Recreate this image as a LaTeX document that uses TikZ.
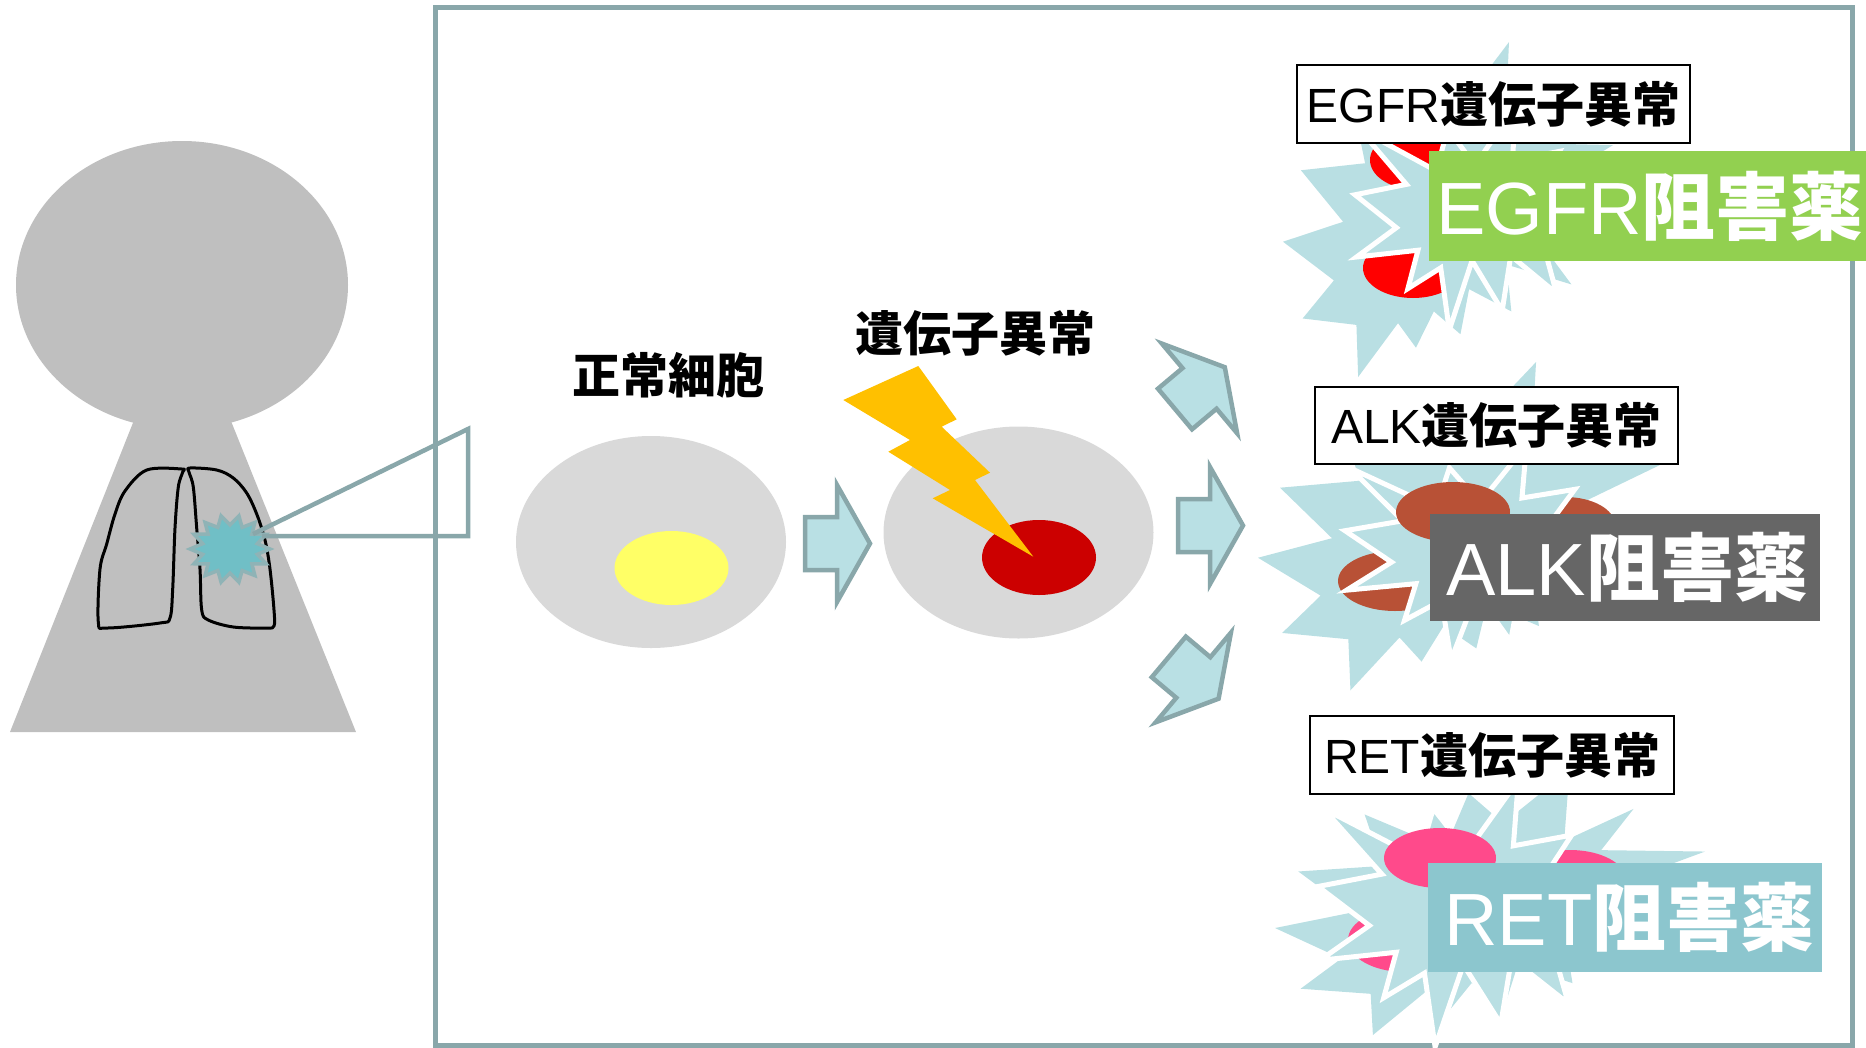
\documentclass[tikz,border=0pt]{standalone}
\usepackage{fontspec}
\setmainfont{Liberation Sans}
\newfontfamily\jp{Noto Sans CJK JP}

\definecolor{framec}{HTML}{89A7AA}
\definecolor{arrowfill}{HTML}{B9E0E4}
\definecolor{burst}{HTML}{B9DFE3}
\definecolor{bodygray}{HTML}{BFBFBF}
\definecolor{cellgray}{HTML}{D9D9D9}
\definecolor{nucyellow}{HTML}{FFFF66}
\definecolor{nucred}{HTML}{CC0000}
\definecolor{boltc}{HTML}{FFC000}
\definecolor{tumorc}{HTML}{70BFC6}
\definecolor{tumoredge}{HTML}{8FB3B6}
\definecolor{egfrgreen}{HTML}{92D050}
\definecolor{alkgray}{HTML}{666666}
\definecolor{retteal}{HTML}{8CC6CE}
\definecolor{egfrnuc}{HTML}{FF0000}
\definecolor{alknuc}{HTML}{B85136}
\definecolor{retnuc}{HTML}{FF4A8B}

\tikzset{
  % explosion outlines in a 216 x 216 box
  burstA/.pic={\path[pic actions] (114.62,43.42) -- (147.90,0) -- (145.25,57.77) -- (180.07,31.72) -- (163.80,65.32) -- (216,66.45) -- (169.85,94.02) -- (182.70,112.90) -- (163.80,123.10) -- (188.77,156.32) -- (146.40,143.50) -- (149.42,173.70) -- (121.80,159.35) -- (116.12,188.42) -- (98.72,173.70) -- (87.00,197.12) -- (75.27,181.25) -- (49.17,216) -- (48.05,182.40) -- (12.85,178.25) -- (33.30,153.70) -- (0,128.77) -- (39.35,115.92) -- (11.72,82.70) -- (53.72,78.17) -- (45.02,36.25) -- (85.50,63.82) -- (97.22,18.87) -- cycle;},
  burstB/.pic={\path[pic actions] (108,58) -- (145.22,0) -- (141.55,53.25) -- (183.80,44.57) -- (167.02,73.15) -- (210.97,81.37) -- (176.07,104.75) -- (216,132.90) -- (168.37,129.42) -- (181.45,180.95) -- (140.20,144.57) -- (132.47,197.37) -- (105.32,149.35) -- (84.85,216) -- (77.15,156.27) -- (47.62,176.17) -- (56.67,139.37) -- (1.35,145.87) -- (37.22,117.75) -- (0,86.15) -- (46.27,76.17) -- (3.70,22.95) -- (73.12,63.20) -- (83.52,22.95) -- cycle;},
  blockarrow/.pic={\path[pic actions] (0,-26.5) -- (32,-26.5) -- (32,-58.5) -- (65,0) -- (32,58.5) -- (32,26.5) -- (0,26.5) -- cycle;},
  arrowsty/.style={fill=arrowfill, draw=framec, line width=4.5},
  backburst/.style={fill=burst},
  frontburst/.style={fill=burst, draw=white, line width=5, line join=miter},
  heading/.style={inner sep=0, font=\fontsize{48}{48}\selectfont\jp\bfseries},
  genelabel/.style={draw=black, line width=2, fill=white, inner sep=0, font=\fontsize{48}{48}\selectfont},
  druglabel/.style={inner sep=0, anchor=west, text=white, font=\fontsize{74}{74}\selectfont},
  lung/.style={draw=black, line width=3, line join=round},
}

\begin{document}
\begin{tikzpicture}[x=1pt, y=-1pt]
\useasboundingbox (0,0) rectangle (1866,1047);

% ---- magnified panel ----
\draw[framec, line width=5] (435,7) rectangle (1852,1045);

% ---- patient silhouette ----
\fill[bodygray] (150,380) -- (214.5,380) -- (356,732) -- (10,732) -- cycle;
\fill[bodygray] (182,285) ellipse [x radius=166, y radius=144];

\draw[lung] plot[smooth cycle, tension=0.55] coordinates {
  (181.7,469) (146.7,470) (125,491) (115,514) (106.7,544) (100,569)
  (98.3,622) (106.7,628) (160,623) (170,618) (172.7,589) (175,528)
  (178.3,487) (182.7,472)};
\draw[lung] plot[smooth cycle, tension=0.55] coordinates {
  (190,468) (216.7,470) (233.3,478) (246.7,493) (256.7,514) (265,540)
  (270,569) (274,610) (274,626) (266.7,628) (233.3,627) (208.3,620)
  (201.7,610) (200,569) (196.7,528) (193.3,487) (189,472)};

% tumour
\draw[fill=tumorc, draw=tumoredge, line width=3.5, line join=miter]
  plot[samples=28, domain=0:27, variable=\k]
  ({230 + (mod(\k,2)==0 ? 40 : 28)*cos(\k*360/28)},
   {549 + (mod(\k,2)==0 ? 34 : 24)*sin(\k*360/28)}) -- cycle;

% zoom wedge from the tumour to the panel
\coordinate (tumtop) at (253,534);
\coordinate (tumbot) at (262,536);
\coordinate (wedgetop) at (468,429);
\coordinate (wedgebot) at (468,536);
\draw[framec, line width=4.5, line join=miter] (tumtop) -- (wedgetop) -- (wedgebot) -- (tumbot);

% ---- normal cell ----
\fill[cellgray] (651,542) ellipse [x radius=135, y radius=106];
\fill[nucyellow] (671.5,568) ellipse [x radius=57, y radius=37];
\node[heading] (normaltitle) at (668,375) {正常細胞};

\pic[arrowsty] at (805,543.5) {blockarrow};

% ---- mutated cell ----
\fill[cellgray] (1018.5,532.5) ellipse [x radius=135, y radius=106];
\fill[nucred] (1039,557.5) ellipse [x radius=57, y radius=37.5];
\fill[boltc] (843.3,400) -- (918.3,366) -- (956.7,419.3) -- (941.7,426.7)
  -- (990,472.7) -- (975,480) -- (1033.3,556.7) -- (932.7,498.3)
  -- (950,490) -- (888.3,451.7) -- (910,440) -- cycle;
\node[heading] (mutanttitle) at (975,333) {遺伝子異常};

\pic[arrowsty, rotate=40] at (1175,409) {blockarrow};
\pic[arrowsty] at (1178,525.5) {blockarrow};
\pic[arrowsty, rotate=-40] at (1168.8,656.9) {blockarrow};

% ---- EGFR ----
\pic[backburst, xscale=1.528, yscale=1.551] at (1283,42) {burstA};
\fill[egfrnuc] (1418,160) ellipse [x radius=48, y radius=30];
\fill[egfrnuc] (1413,268) ellipse [x radius=50, y radius=30];
\pic[frontburst, xscale=1.111, yscale=1.042] at (1355,105) {burstB};
\node[genelabel, minimum width=393, minimum height=78] (egfrgene) at (1493.5,104) {EGFR{\jp\bfseries 遺伝子異常}};
\fill[egfrgreen] (1429,151) rectangle (1870,261);
\node[druglabel] (egfrdrug) at (1436,206) {EGFR{\jp\bfseries 阻害薬}};

% ---- ALK ----
\pic[backburst, xscale=1.880, yscale=1.520] at (1258,362) {burstA};
\fill[alknuc] (1395,581) ellipse [x radius=57, y radius=30];
\fill[alknuc] (1565,525) ellipse [x radius=50, y radius=28];
\pic[frontburst, xscale=1.250, yscale=0.995] at (1345,445) {burstB};
\fill[alknuc] (1453,512) ellipse [x radius=57, y radius=30];
\node[genelabel, minimum width=363, minimum height=77] (alkgene) at (1496.5,425.5) {ALK{\jp\bfseries 遺伝子異常}};
\fill[alkgray] (1430,514) rectangle (1820,621);
\node[druglabel] (alkdrug) at (1446,567) {ALK{\jp\bfseries 阻害薬}};

% ---- RET ----
\pic[backburst, xscale=1.991, yscale=1.227] at (1275,770) {burstA};
\fill[retnuc] (1570,880) ellipse [x radius=56, y radius=30];
\fill[retnuc] (1405,940) ellipse [x radius=57, y radius=32];
\pic[frontburst, xscale=1.380, yscale=1.236] at (1318,780) {burstB};
\fill[retnuc] (1440,858) ellipse [x radius=56, y radius=30];
\node[genelabel, minimum width=364, minimum height=78] (retgene) at (1492,755) {RET{\jp\bfseries 遺伝子異常}};
\fill[retteal] (1428,863) rectangle (1822,972);
\node[druglabel] (retdrug) at (1444,917) {RET{\jp\bfseries 阻害薬}};
\end{tikzpicture}
\end{document}
